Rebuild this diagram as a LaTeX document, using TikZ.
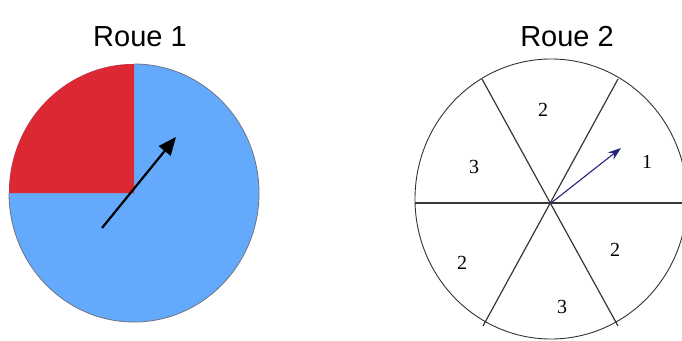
\documentclass[tikz,border=0pt]{standalone}
\usepackage{fontspec}
\setmainfont{Liberation Serif}
\newfontfamily\titlefont{Liberation Sans}
\usetikzlibrary{arrows.meta}
\definecolor{wheelblue}{RGB}{100,170,252}
\definecolor{wheelred}{RGB}{220,40,50}
\definecolor{rimgray}{RGB}{110,115,130}
\definecolor{spokegray}{RGB}{55,55,55}
\definecolor{navy}{RGB}{35,35,125}
\tikzset{
  title/.style={font=\titlefont\fontsize{29}{34}\selectfont, anchor=base, inner sep=0pt},
  num/.style={font=\fontsize{20}{24}\selectfont, inner sep=0pt},
  spoke/.style={draw=spokegray, line width=1.2pt},
  rim/.style={draw=black!80, line width=0.9pt},
}
\begin{document}
\begin{tikzpicture}[x=1pt,y=-1pt]
\useasboundingbox (0,0) rectangle (682,340);
\fill[white] (0,0) rectangle (682,340);
% titles
\node[title] (t1) at (140,46) {Roue 1};
\node[title] (t2) at (567,46) {Roue 2};
% wheel 1
\coordinate (c1) at (134,193);
\fill[wheelblue] (c1) ellipse[x radius=125, y radius=129];
\fill[wheelred] (c1) -- ++(-125,0) arc[start angle=180, end angle=270, x radius=125, y radius=129] -- cycle;
\draw[rimgray, line width=0.8pt] (c1) ++(0,-129) arc[start angle=-90, end angle=180, x radius=125, y radius=129];
\coordinate (a1s) at (102,228);
\coordinate (a1e) at (176,137);
\draw[line width=2.2pt, -{Triangle[length=18pt,width=15pt]}] (a1s) -- (a1e);
% wheel 2
\coordinate (c2) at (551,203);
\draw[rim] (551,199) ellipse[x radius=136, y radius=140];
\coordinate (h1) at (415,203);
\coordinate (h2) at (687,203);
\coordinate (p1) at (482,79);
\coordinate (p2) at (618,326);
\coordinate (q1) at (618,79);
\coordinate (q2) at (483,326);
\draw[spoke] (h1) -- (h2);
\draw[spoke] (p1) -- (p2);
\draw[spoke] (q1) -- (q2);
\coordinate (a2e) at (621,148);
\draw[navy, line width=1.1pt, -{Stealth[length=13pt,width=9pt]}] (c2) -- (a2e);
\node[num] (n1) at (647,162) {1};
\node[num] (n2a) at (543,110) {2};
\node[num] (n3a) at (474,167) {3};
\node[num] (n2b) at (462,263) {2};
\node[num] (n2c) at (615,250) {2};
\node[num] (n3b) at (562,307) {3};
\end{tikzpicture}
\end{document}
